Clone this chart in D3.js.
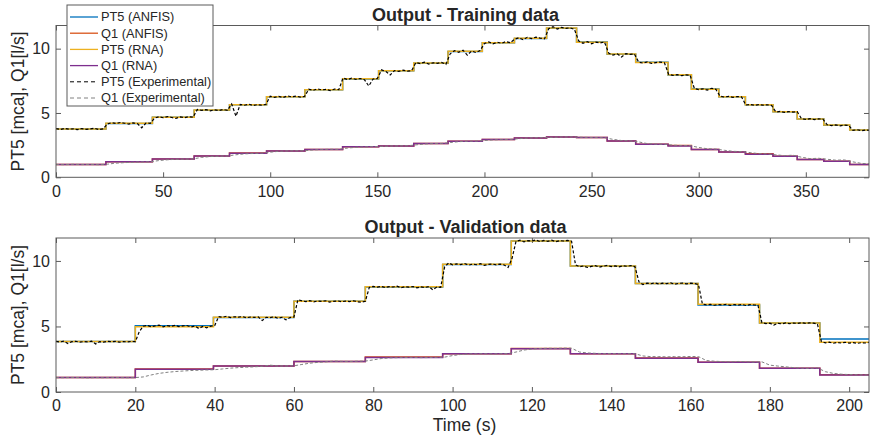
<!DOCTYPE html>
<html>
<head>
<meta charset="utf-8">
<script src="https://cdn.jsdelivr.net/npm/d3@7/dist/d3.min.js"></script>
<style>
    body { margin: 0; background: #ffffff; }
    text { font-family: "Liberation Sans", Arial, sans-serif; fill: #262626; }
</style>
</head>
<body>
<div class="outputPlotDiv"></div>
<script>
"use strict"

//
/* Training data: model outputs are steps, value held from each time on */
//
var trainStepTimes = [0, 23.3, 45, 64.5, 81, 98.3, 116.2, 133.8, 150.6, 167, 183, 199, 214, 229, 243, 257.3, 270.6, 285.7, 296.6, 309.4, 321.8, 334.7, 346, 358.4, 370.5, 380];
var trainPT5Anfis = [3.76, 4.19, 4.67, 5.22, 5.64, 6.26, 6.81, 7.65, 8.29, 8.87, 9.78, 10.46, 10.79, 11.59, 10.51, 9.57, 8.94, 7.96, 6.86, 6.26, 5.64, 5.09, 4.54, 4.05, 3.68, 3.68];
var trainQ1Anfis  = [1.0, 1.2, 1.43, 1.65, 1.88, 2.05, 2.17, 2.38, 2.44, 2.62, 2.8, 2.93, 3.06, 3.13, 3.09, 2.83, 2.57, 2.48, 2.16, 1.97, 1.84, 1.63, 1.38, 1.25, 1.0, 1.0];
var trainPT5Rna   = [3.75, 4.2, 4.66, 5.23, 5.63, 6.27, 6.8, 7.66, 8.28, 8.88, 9.79, 10.45, 10.8, 11.6, 10.5, 9.58, 8.93, 7.97, 6.85, 6.27, 5.63, 5.1, 4.53, 4.06, 3.67, 3.67];
var trainQ1Rna    = [1.0, 1.2, 1.42, 1.65, 1.86, 2.05, 2.17, 2.37, 2.44, 2.62, 2.8, 2.93, 3.06, 3.13, 3.09, 2.82, 2.57, 2.44, 2.16, 1.97, 1.79, 1.63, 1.38, 1.25, 1.0, 1.0];

// experimental PT5, one sample every 2 s (0 .. 380 s)
var trainPT5ExpStep = 2;
var trainPT5Exp = [
    3.78, 3.72, 3.80, 3.74, 3.77, 3.70, 3.79, 3.73, 3.76, 3.81, 3.71, 3.76,
    4.15, 4.24, 4.18, 4.26, 4.20, 4.14, 4.23, 4.17, 3.85, 4.22, 4.19,
    4.60, 4.70, 4.63, 4.72, 4.65, 4.58, 4.69, 4.64, 4.71, 4.67,
    5.28, 5.20, 5.26, 5.17, 5.24, 5.19, 5.27, 5.21,
    5.70, 4.75, 5.66, 5.60, 5.68, 5.58, 5.65, 5.61, 5.67,
    6.30, 6.22, 6.29, 6.20, 6.33, 6.25, 6.31, 6.24, 6.28,
    6.85, 6.76, 6.88, 6.79, 6.84, 6.74, 6.86, 6.81,
    7.72, 7.60, 7.70, 7.62, 7.68, 7.58, 7.10, 7.64, 7.69,
    8.35, 8.22, 7.95, 8.30, 8.24, 8.33, 8.26, 8.29,
    8.92, 8.84, 8.95, 8.80, 8.90, 8.86, 8.93, 8.78,
    9.60, 9.85, 9.72, 9.88, 9.50, 9.82, 9.70, 9.86,
    10.40, 10.52, 10.38, 10.50, 10.42, 10.55, 10.46,
    10.72, 10.85, 10.70, 10.88, 10.78, 10.90, 10.82, 10.76,
    11.55, 11.70, 11.52, 11.66, 11.58, 11.62, 11.50,
    10.60, 10.42, 10.55, 10.38, 10.50, 10.44, 10.52,
    9.65, 9.50, 9.60, 9.35, 9.62, 9.55, 9.58,
    8.95, 8.88, 8.97, 8.85, 8.92, 8.96, 8.90,
    8.00, 7.92, 7.98, 7.90, 7.96, 7.93,
    6.90, 6.82, 6.88, 6.78, 6.92, 6.84,
    6.30, 6.24, 6.29, 6.22, 6.28, 6.25,
    5.62, 5.66, 5.60, 5.65, 5.61, 5.64, 5.59,
    5.08, 5.12, 5.05, 5.11, 5.07, 5.10,
    4.55, 4.50, 4.56, 4.48, 4.54, 4.52,
    4.08, 4.02, 4.07, 4.00, 4.05, 4.03,
    3.65, 3.70, 3.62, 3.68, 3.64
];

// experimental Q1, one sample every 4 s (0 .. 380 s)
var trainQ1ExpStep = 4;
var trainQ1Exp = [
    1.00, 0.98, 1.01, 0.99, 1.00, 0.98, 1.02, 1.10, 1.14, 1.17,
    1.19, 1.20, 1.30, 1.36, 1.40, 1.41, 1.43, 1.55, 1.61, 1.64,
    1.66, 1.75, 1.82, 1.85, 1.87, 1.95, 2.02, 2.05, 2.06, 2.06,
    2.13, 2.16, 2.18, 2.17, 2.27, 2.33, 2.36, 2.38, 2.40, 2.43,
    2.44, 2.45, 2.52, 2.59, 2.62, 2.63, 2.70, 2.77, 2.80, 2.81,
    2.86, 2.91, 2.93, 2.94, 3.00, 3.05, 3.07, 3.08, 3.11, 3.13,
    3.14, 3.12, 3.10, 3.09, 3.08, 2.95, 2.86, 2.83, 2.75, 2.62,
    2.58, 2.57, 2.50, 2.47, 2.46, 2.32, 2.22, 2.19, 2.10, 2.02,
    2.00, 1.92, 1.84, 1.82, 1.75, 1.68, 1.72, 1.56, 1.45, 1.48,
    1.40, 1.33, 1.35, 1.20, 1.08, 1.05
];

//
/* Validation data */
//
var valStepTimes = [0, 20, 39.7, 60, 78, 97.5, 114.8, 129.7, 146.1, 161.9, 177.4, 192.6, 206];
var valPT5Anfis = [3.86, 5.06, 5.69, 6.92, 8.02, 9.73, 11.52, 9.62, 8.27, 6.63, 5.26, 4.05, 4.05];
var valQ1Anfis  = [1.1, 1.75, 1.99, 2.33, 2.67, 2.91, 3.31, 2.92, 2.6, 2.27, 1.82, 1.31, 1.31];
var valPT5Rna   = [3.85, 4.97, 5.7, 6.93, 8.03, 9.74, 11.53, 9.61, 8.28, 6.69, 5.27, 3.8, 3.8];
var valQ1Rna    = [1.1, 1.74, 1.99, 2.32, 2.63, 2.91, 3.3, 2.91, 2.58, 2.27, 1.81, 1.3, 1.3];

// experimental PT5, one sample every 1 s (0 .. 206 s)
var valPT5ExpStep = 1;
var valPT5Exp = [
    3.86, 3.82, 3.88, 3.70, 3.84, 3.87, 3.80, 3.85, 3.83, 3.88, 3.66, 3.84, 3.81, 3.87, 3.83, 3.86, 3.80, 3.85, 3.82, 3.86, 3.84,
    4.60, 5.02,
    5.08, 4.98, 5.05, 5.10, 4.97, 5.06, 5.01, 5.09, 4.99, 5.04, 5.07, 4.96, 5.03, 4.85, 5.00, 4.90, 5.02, 5.05,
    5.75, 5.70, 5.78, 5.68, 5.74, 5.71, 5.76, 5.66, 5.72, 5.69, 5.73, 5.45, 5.70, 5.67, 5.74, 5.62, 5.70, 5.50, 5.68, 5.72,
    7.05,
    6.95, 6.90, 6.97, 6.88, 6.94, 6.91, 6.96, 6.86, 6.92, 6.95, 6.89, 6.93, 6.90, 6.96, 6.88, 6.85, 6.92,
    7.98, 8.06, 8.00, 8.05, 7.97, 8.04, 8.01, 8.07, 7.96, 8.03, 8.00, 8.05, 7.95, 8.02, 7.98, 8.04, 7.80, 8.01, 7.99,
    9.55, 9.85, 9.70, 9.78, 9.72, 9.80, 9.68, 9.75, 9.71, 9.79, 9.66, 9.74, 9.77, 9.70, 9.76, 9.69, 9.50,
    10.20, 11.50, 11.58, 11.45, 11.55, 11.52, 11.60, 11.48, 11.56, 11.50, 11.58, 11.47, 11.55, 11.52, 11.57, 11.50,
    9.70, 9.55, 9.62, 9.50, 9.58, 9.64, 9.52, 9.60, 9.66, 9.57, 9.62, 9.55, 9.63, 9.59, 9.65, 9.55,
    8.40, 8.20, 8.30, 8.26, 8.32, 8.24, 8.30, 8.27, 8.33, 8.22, 8.29, 8.31, 8.25, 8.30, 8.28, 8.20,
    6.70, 6.65, 6.68, 6.62, 6.66, 6.64, 6.69, 6.61, 6.67, 6.63, 6.68, 6.60, 6.66, 6.64, 6.62,
    5.30, 5.22, 5.25, 5.10, 5.24, 5.20, 5.27, 5.21, 5.26, 5.23, 5.28, 5.24, 5.27, 5.25, 5.18,
    3.85, 3.75, 3.80, 3.72, 3.78, 3.74, 3.79, 3.73, 3.77, 3.71, 3.76, 3.74, 3.78, 3.73
];

// experimental Q1, one sample every 2 s (0 .. 206 s)
var valQ1ExpStep = 2;
var valQ1Exp = [
    1.10, 1.09, 1.11, 1.10, 1.08, 1.10, 1.09, 1.11, 1.10, 1.09, 1.10,
    1.15, 1.30, 1.42, 1.50, 1.56, 1.60, 1.64, 1.66, 1.68, 1.70,
    1.76, 1.82, 1.86, 1.89, 1.92, 1.96, 2.05, 1.98, 1.99, 2.00,
    2.10, 2.20, 2.26, 2.30, 2.36, 2.34, 2.33, 2.35, 2.36,
    2.45, 2.55, 2.60, 2.62, 2.63, 2.64, 2.62, 2.63, 2.64, 2.66,
    2.78, 2.86, 2.90, 2.91, 2.92, 2.90, 2.92, 2.93,
    3.05, 3.20, 3.28, 3.32, 3.34, 3.33, 3.35, 3.34,
    3.05, 2.98, 2.95, 2.93, 2.94, 2.92, 2.93, 2.92,
    2.75, 2.70, 2.70, 2.68, 2.70, 2.69, 2.71, 2.70,
    2.40, 2.35, 2.32, 2.30, 2.33, 2.31, 2.29, 2.30,
    2.05, 1.98, 1.92, 1.86, 1.82, 1.80, 1.84,
    1.55, 1.42, 1.36, 1.33, 1.31, 1.30, 1.29
];

//
/* Axis settings */
//
var trainXMax = 379.5;
var valXMax = 205;
var yMaxTrain = 11.8;
var yMaxVal = 11.75;
var trainXTicks = [0, 50, 100, 150, 200, 250, 300, 350];
var valXTicks = [0, 20, 40, 60, 80, 100, 120, 140, 160, 180, 200];
var yTicks = [0, 5, 10];

var seriesNames = ["PT5 (ANFIS)", "Q1 (ANFIS)", "PT5 (RNA)", "Q1 (RNA)", "PT5 (Experimental)", "Q1 (Experimental)"];
var seriesColors = ["#0072BD", "#D95319", "#EDB120", "#7E2F8E", "#000000", "#808080"];
var seriesDashes = [null, null, null, null, "3,2", "3,2"];
var seriesWidths = [1.5, 1.5, 1.5, 1.5, 1.2, 1];

var width = 870;
var height = 442;
var plotLeft = 56;
var plotRight = 869;
var axisColor = "#262626";
var boxColor = "#5a5a5a";

var svgContainer = d3.select(".outputPlotDiv").append("svg")
                        .attr("width", width)
                        .attr("height", height)
                        .attr("viewBox", "0 0 " + width + " " + height);

function stepPoints(times, levels)
{
    return times.map(function(t, i) { return [t, levels[i]]; });
}

function sampledPoints(values, dt)
{
    return values.map(function(v, i) { return [i * dt, v]; });
}

function drawPanel(cfg)
{
    var xScale = d3.scaleLinear().domain([0, cfg.xMax]).range([plotLeft, plotRight]);
    var yScale = d3.scaleLinear().domain([0, cfg.yMax]).range([cfg.bottom, cfg.top]);

    var g = svgContainer.append("g").attr("class", "panel " + cfg.id);

    g.append("defs").append("clipPath")
        .attr("id", "clip-" + cfg.id)
        .append("rect")
        .attr("x", plotLeft)
        .attr("y", cfg.top)
        .attr("width", plotRight - plotLeft)
        .attr("height", cfg.bottom - cfg.top);

    // axes with ticks pointing inwards, MATLAB box style
    var bottomAxis = d3.axisBottom(xScale).tickValues(cfg.xTicks).tickSizeInner(-5).tickSizeOuter(0).tickPadding(8);
    var topAxis = d3.axisTop(xScale).tickValues(cfg.xTicks).tickSizeInner(-5).tickSizeOuter(0).tickFormat("");
    var leftAxis = d3.axisLeft(yScale).tickValues(yTicks).tickSizeInner(-5).tickSizeOuter(0).tickPadding(6);
    var rightAxis = d3.axisRight(yScale).tickValues(yTicks).tickSizeInner(-5).tickSizeOuter(0).tickFormat("");

    var axes = [
        {axis: bottomAxis, tr: "translate(0," + cfg.bottom + ")"},
        {axis: topAxis, tr: "translate(0," + cfg.top + ")"},
        {axis: leftAxis, tr: "translate(" + plotLeft + ",0)"},
        {axis: rightAxis, tr: "translate(" + plotRight + ",0)"}
    ];

    axes.forEach(function(a)
    {
        var ag = g.append("g").attr("transform", a.tr).call(a.axis);
        ag.select(".domain").remove();
        ag.selectAll(".tick line").attr("stroke", boxColor).attr("stroke-width", 1);
        ag.selectAll(".tick text")
            .attr("fill", axisColor)
            .attr("font-size", 16)
            .attr("font-family", "Liberation Sans, Arial, sans-serif");
    });

    var line = d3.line()
                .x(function(d) { return xScale(d[0]); })
                .y(function(d) { return yScale(d[1]); });

    var stepLine = d3.line()
                .curve(d3.curveStepAfter)
                .x(function(d) { return xScale(d[0]); })
                .y(function(d) { return yScale(d[1]); });

    var lines = g.append("g").attr("clip-path", "url(#clip-" + cfg.id + ")");

    cfg.series.forEach(function(s, i)
    {
        lines.append("path")
            .datum(s.points)
            .attr("d", s.step ? stepLine : line)
            .attr("fill", "none")
            .attr("stroke", seriesColors[i])
            .attr("stroke-width", seriesWidths[i])
            .attr("stroke-dasharray", seriesDashes[i]);
    });

    g.append("rect")
        .attr("x", plotLeft)
        .attr("y", cfg.top)
        .attr("width", plotRight - plotLeft)
        .attr("height", cfg.bottom - cfg.top)
        .attr("fill", "none")
        .attr("stroke", boxColor)
        .attr("stroke-width", 1);

    g.append("text")
        .text(cfg.title)
        .attr("x", (plotLeft + plotRight) / 2 + 3)
        .attr("y", cfg.top - 5)
        .attr("text-anchor", "middle")
        .attr("font-size", 18)
        .attr("font-weight", "bold")
        .attr("fill", "#000000");

    g.append("text")
        .text("PT5 [mca], Q1[l/s]")
        .attr("transform", "translate(24," + ((cfg.top + cfg.bottom) / 2) + ") rotate(-90)")
        .attr("text-anchor", "middle")
        .attr("font-size", 17.5);

    return g;
}

drawPanel({
    id: "training",
    title: "Output - Training data",
    top: 25.5,
    bottom: 177.3,
    xMax: trainXMax,
    yMax: yMaxTrain,
    xTicks: trainXTicks,
    series: [
        {points: stepPoints(trainStepTimes, trainPT5Anfis), step: true},
        {points: stepPoints(trainStepTimes, trainQ1Anfis), step: true},
        {points: stepPoints(trainStepTimes, trainPT5Rna), step: true},
        {points: stepPoints(trainStepTimes, trainQ1Rna), step: true},
        {points: sampledPoints(trainPT5Exp, trainPT5ExpStep), step: false},
        {points: sampledPoints(trainQ1Exp, trainQ1ExpStep), step: false}
    ]
});

drawPanel({
    id: "validation",
    title: "Output - Validation data",
    top: 238,
    bottom: 392,
    xMax: valXMax,
    yMax: yMaxVal,
    xTicks: valXTicks,
    series: [
        {points: stepPoints(valStepTimes, valPT5Anfis), step: true},
        {points: stepPoints(valStepTimes, valQ1Anfis), step: true},
        {points: stepPoints(valStepTimes, valPT5Rna), step: true},
        {points: stepPoints(valStepTimes, valQ1Rna), step: true},
        {points: sampledPoints(valPT5Exp, valPT5ExpStep), step: false},
        {points: sampledPoints(valQ1Exp, valQ1ExpStep), step: false}
    ]
});

svgContainer.append("text")
    .text("Time (s)")
    .attr("x", (plotLeft + plotRight) / 2 + 2)
    .attr("y", 431)
    .attr("text-anchor", "middle")
    .attr("font-size", 17.5);

//
/* Legend (top panel, upper left) */
//
var legendX = 67;
var legendY = 5;
var legendRow = 16.2;

var legend = svgContainer.append("g")
                .attr("class", "legend")
                .attr("transform", "translate(" + legendX + "," + legendY + ")");

legend.append("rect")
    .attr("width", 146)
    .attr("height", 101)
    .attr("fill", "#ffffff")
    .attr("stroke", boxColor)
    .attr("stroke-width", 1);

var legendItems = legend.selectAll(".legendItem")
                .data(seriesNames)
                .enter()
                .append("g")
                .attr("class", "legendItem")
                .attr("transform", function(d, i) { return "translate(0," + (12 + i * legendRow) + ")"; });

legendItems.append("line")
    .attr("x1", 3)
    .attr("x2", 31)
    .attr("stroke", function(d, i) { return seriesColors[i]; })
    .attr("stroke-width", function(d, i) { return seriesDashes[i] ? 1 : 1.3; })
    .attr("stroke-dasharray", function(d, i) { return seriesDashes[i] ? "4,3" : null; });

legendItems.append("text")
    .text(function(d) { return d; })
    .attr("x", 34)
    .attr("dy", "0.35em")
    .attr("font-size", 12.8)
    .attr("fill", "#000000");
</script>
</body>
</html>
